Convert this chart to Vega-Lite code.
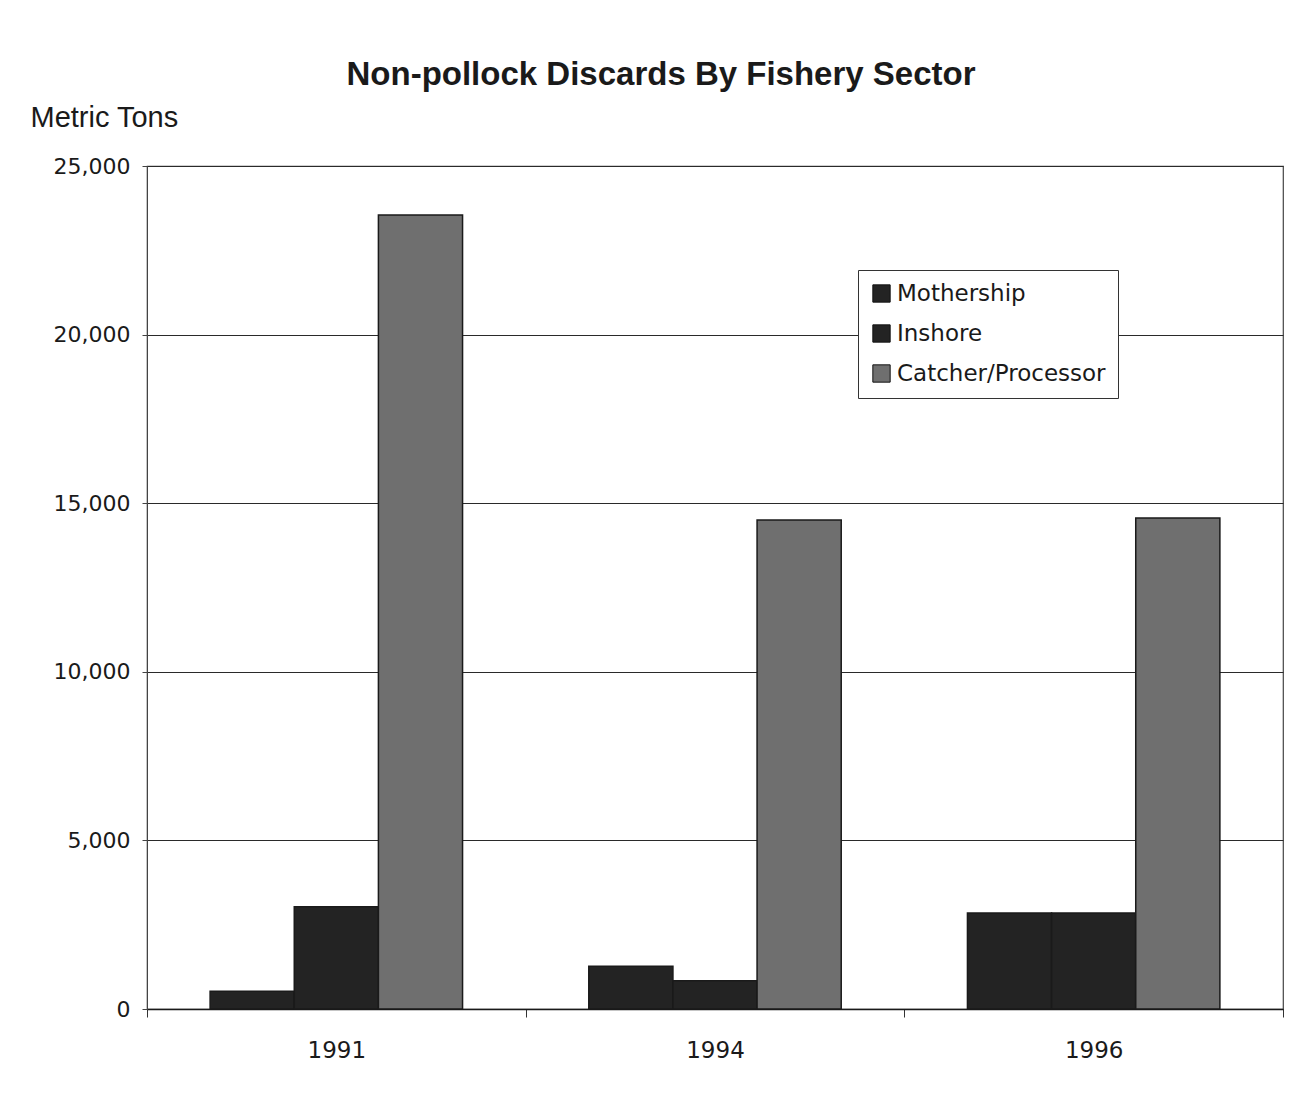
{
  "$schema": "https://vega.github.io/schema/vega-lite/v6.json",
  "width": 1136,
  "height": 843,
  "autosize": "none",
  "padding": {"left": 147, "top": 166, "right": 25, "bottom": 88},
  "background": "white",
  "title": {
    "text": "Non-pollock Discards By Fishery Sector",
    "font": "Liberation Sans",
    "fontSize": 33,
    "fontWeight": "bold",
    "color": "#1a1a1a",
    "anchor": "middle",
    "dx": -54,
    "offset": 11
  },
  "data": {
    "values": [
      {"year": "1991", "sector": "Mothership", "tons": 530},
      {"year": "1991", "sector": "Inshore", "tons": 3030},
      {"year": "1991", "sector": "Catcher/Processor", "tons": 23550},
      {"year": "1994", "sector": "Mothership", "tons": 1270},
      {"year": "1994", "sector": "Inshore", "tons": 840},
      {"year": "1994", "sector": "Catcher/Processor", "tons": 14500},
      {"year": "1996", "sector": "Mothership", "tons": 2850},
      {"year": "1996", "sector": "Inshore", "tons": 2850},
      {"year": "1996", "sector": "Catcher/Processor", "tons": 14560}
    ]
  },
  "mark": {"type": "bar", "stroke": "#1a1a1a", "strokeWidth": 1.5},
  "encoding": {
    "x": {
      "field": "year",
      "type": "nominal",
      "scale": {"paddingInner": 0, "paddingOuter": 0},
      "axis": {
        "title": null,
        "labelAngle": 0,
        "labelFont": "DejaVu Sans",
        "labelFontSize": 23,
        "labelColor": "#1a1a1a",
        "labelPadding": 22,
        "tickBand": "extent",
        "ticks": true,
        "tickSize": 8,
        "tickColor": "#333",
        "domainColor": "#1a1a1a",
        "domainWidth": 1.5,
        "grid": false
      }
    },
    "xOffset": {
      "field": "sector",
      "sort": ["Mothership", "Inshore", "Catcher/Processor"],
      "scale": {"paddingInner": 0, "paddingOuter": 0.75}
    },
    "y": {
      "field": "tons",
      "type": "quantitative",
      "scale": {"domain": [0, 25000]},
      "axis": {
        "values": [0, 5000, 10000, 15000, 20000, 25000],
        "format": ",.0f",
        "title": "Metric Tons",
        "titleAngle": 0,
        "titleAlign": "left",
        "titleBaseline": "middle",
        "titleX": -117,
        "titleY": -49,
        "titleFont": "Liberation Sans",
        "titleFontSize": 29,
        "titleFontWeight": "normal",
        "titleColor": "#1a1a1a",
        "labelFont": "DejaVu Sans",
        "labelFontSize": 22,
        "labelColor": "#1a1a1a",
        "labelPadding": 12,
        "tickSize": 5,
        "tickColor": "#444",
        "grid": true,
        "gridColor": "#2a2a2a",
        "gridWidth": 1.2,
        "gridOpacity": 1,
        "domainColor": "#444"
      }
    },
    "color": {
      "field": "sector",
      "type": "nominal",
      "sort": ["Mothership", "Inshore", "Catcher/Processor"],
      "scale": {
        "domain": ["Mothership", "Inshore", "Catcher/Processor"],
        "range": ["#232323", "#232323", "#6f6f6f"]
      },
      "legend": {
        "orient": "none",
        "legendX": 711,
        "legendY": 104,
        "title": null,
        "strokeColor": "#333",
        "fillColor": "white",
        "padding": 12,
        "symbolType": "square",
        "symbolSize": 300,
        "symbolStrokeColor": "#111",
        "symbolStrokeWidth": 1,
        "symbolOpacity": 1,
        "labelFont": "DejaVu Sans",
        "labelFontSize": 23,
        "labelLimit": 400,
        "labelColor": "#1a1a1a",
        "labelOffset": 4,
        "rowPadding": 16
      }
    }
  },
  "config": {
    "view": {"stroke": "#444", "strokeWidth": 1.2}
  }
}
